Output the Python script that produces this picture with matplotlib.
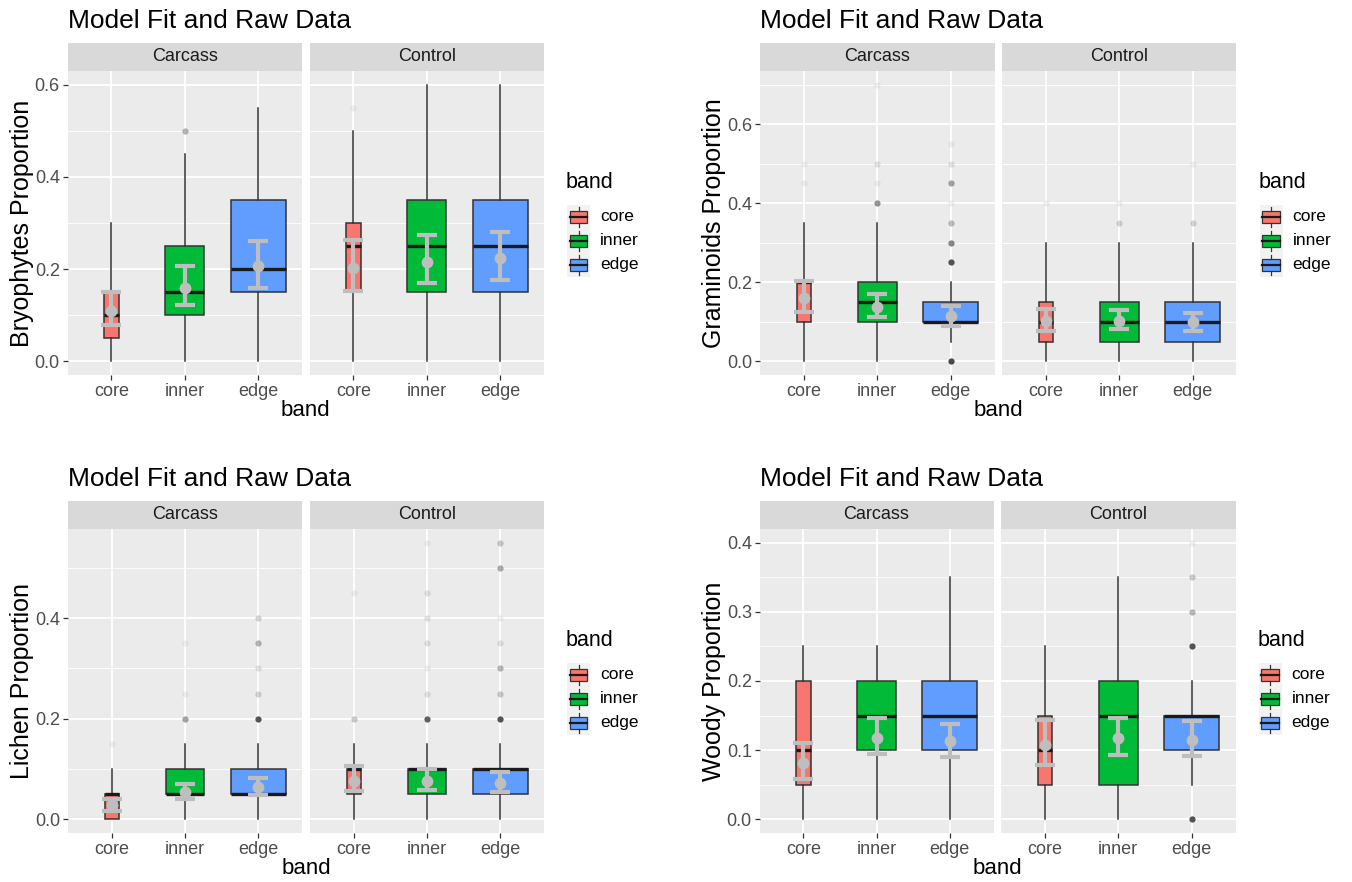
import numpy as np
import matplotlib.pyplot as plt
from matplotlib.patches import Rectangle
from matplotlib.ticker import MultipleLocator, FormatStrFormatter

plt.rcParams['font.family'] = ['Liberation Sans', 'DejaVu Sans']

W, H = 1352, 882

bands = ['core', 'inner', 'edge']
facets = ['Carcass', 'Control']

# ---- Bryophytes (rows: Carcass, Control; cols: core, inner, edge)
bryo_q1 = [[0.05, 0.10, 0.15], [0.15, 0.15, 0.15]]
bryo_med = [[0.10, 0.15, 0.20], [0.25, 0.25, 0.25]]
bryo_q3 = [[0.15, 0.25, 0.35], [0.30, 0.35, 0.35]]
bryo_wlo = [[0.0, 0.0, 0.0], [0.0, 0.0, 0.0]]
bryo_whi = [[0.30, 0.45, 0.55], [0.50, 0.60, 0.60]]
bryo_fit = [[0.109, 0.160, 0.206], [0.203, 0.216, 0.223]]
bryo_fit_lo = [[0.078, 0.123, 0.160], [0.153, 0.169, 0.176]]
bryo_fit_hi = [[0.150, 0.207, 0.260], [0.264, 0.273, 0.280]]
# outliers: (facet, band, value, number of overlapping points)
bryo_out = [(0, 1, 0.50, 6), (1, 0, 0.55, 1)]

# ---- Graminoids
gram_q1 = [[0.10, 0.10, 0.10], [0.05, 0.05, 0.05]]
gram_med = [[0.20, 0.15, 0.10], [0.10, 0.10, 0.10]]
gram_q3 = [[0.20, 0.20, 0.15], [0.15, 0.15, 0.15]]
gram_wlo = [[0.0, 0.0, 0.05], [0.0, 0.0, 0.0]]
gram_whi = [[0.35, 0.35, 0.20], [0.30, 0.30, 0.30]]
gram_fit = [[0.160, 0.138, 0.114], [0.101, 0.103, 0.099]]
gram_fit_lo = [[0.124, 0.111, 0.090], [0.076, 0.082, 0.078]]
gram_fit_hi = [[0.203, 0.170, 0.141], [0.133, 0.129, 0.123]]
gram_out = [(0, 0, 0.50, 1), (0, 0, 0.45, 1),
            (0, 1, 0.70, 1), (0, 1, 0.50, 2), (0, 1, 0.45, 1), (0, 1, 0.40, 10),
            (0, 2, 0.55, 1), (0, 2, 0.50, 2), (0, 2, 0.45, 8), (0, 2, 0.40, 1),
            (0, 2, 0.35, 5), (0, 2, 0.30, 12), (0, 2, 0.25, 25), (0, 2, 0.0, 30),
            (1, 0, 0.40, 1), (1, 1, 0.40, 1), (1, 1, 0.35, 3),
            (1, 2, 0.50, 1), (1, 2, 0.35, 3)]

# ---- Lichen
lich_q1 = [[0.0, 0.05, 0.05], [0.05, 0.05, 0.05]]
lich_med = [[0.05, 0.05, 0.05], [0.10, 0.10, 0.10]]
lich_q3 = [[0.05, 0.10, 0.10], [0.10, 0.10, 0.10]]
lich_wlo = [[0.0, 0.0, 0.0], [0.0, 0.0, 0.0]]
lich_whi = [[0.10, 0.15, 0.15], [0.15, 0.15, 0.15]]
lich_fit = [[0.029, 0.054, 0.064], [0.077, 0.076, 0.073]]
lich_fit_lo = [[0.017, 0.040, 0.048], [0.056, 0.058, 0.055]]
lich_fit_hi = [[0.040, 0.071, 0.083], [0.107, 0.100, 0.095]]
lich_out = [(0, 0, 0.15, 1),
            (0, 1, 0.35, 1), (0, 1, 0.25, 1), (0, 1, 0.20, 8),
            (0, 2, 0.40, 3), (0, 2, 0.35, 6), (0, 2, 0.30, 2), (0, 2, 0.25, 3), (0, 2, 0.20, 25),
            (1, 0, 0.45, 1), (1, 0, 0.20, 4),
            (1, 1, 0.55, 1), (1, 1, 0.45, 2), (1, 1, 0.40, 2), (1, 1, 0.35, 2),
            (1, 1, 0.30, 1), (1, 1, 0.25, 2), (1, 1, 0.20, 20),
            (1, 2, 0.55, 4), (1, 2, 0.50, 7), (1, 2, 0.40, 1), (1, 2, 0.35, 2),
            (1, 2, 0.30, 6), (1, 2, 0.25, 4), (1, 2, 0.20, 25)]

# ---- Woody
wood_q1 = [[0.05, 0.10, 0.10], [0.05, 0.05, 0.10]]
wood_med = [[0.10, 0.15, 0.15], [0.10, 0.15, 0.15]]
wood_q3 = [[0.20, 0.20, 0.20], [0.15, 0.20, 0.15]]
wood_wlo = [[0.0, 0.0, 0.0], [0.0, 0.0, 0.05]]
wood_whi = [[0.25, 0.25, 0.35], [0.25, 0.35, 0.20]]
wood_fit = [[0.082, 0.117, 0.113], [0.108, 0.117, 0.115]]
wood_fit_lo = [[0.059, 0.094, 0.090], [0.079, 0.093, 0.091]]
wood_fit_hi = [[0.111, 0.147, 0.138], [0.143, 0.147, 0.142]]
wood_out = [(1, 2, 0.40, 1), (1, 2, 0.35, 4), (1, 2, 0.30, 6), (1, 2, 0.25, 25), (1, 2, 0.0, 25)]

band_colors = ['#F8766D', '#00BA38', '#619CFF']
box_widths = [0.2, 0.53, 0.75]

panels = [
    dict(ylabel='Bryophytes Proportion', q1=bryo_q1, med=bryo_med, q3=bryo_q3, wlo=bryo_wlo,
         whi=bryo_whi, fit=bryo_fit, lo=bryo_fit_lo, hi=bryo_fit_hi, out=bryo_out, step=0.2,
         fx=[(67.5, 302), (309.5, 544)], top=42.7),
    dict(ylabel='Graminoids Proportion', q1=gram_q1, med=gram_med, q3=gram_q3, wlo=gram_wlo,
         whi=gram_whi, fit=gram_fit, lo=gram_fit_lo, hi=gram_fit_hi, out=gram_out, step=0.2,
         fx=[(760, 994.5), (1002, 1236.5)], top=42.7),
    dict(ylabel='Lichen Proportion', q1=lich_q1, med=lich_med, q3=lich_q3, wlo=lich_wlo,
         whi=lich_whi, fit=lich_fit, lo=lich_fit_lo, hi=lich_fit_hi, out=lich_out, step=0.2,
         fx=[(68, 302), (310, 544)], top=500.7),
    dict(ylabel='Woody Proportion', q1=wood_q1, med=wood_med, q3=wood_q3, wlo=wood_wlo,
         whi=wood_whi, fit=wood_fit, lo=wood_fit_lo, hi=wood_fit_hi, out=wood_out, step=0.1,
         fx=[(759.5, 993.5), (1001, 1235.5)], top=500.7),
]

fig = plt.figure(figsize=(W / 100, H / 100), dpi=100)
fig.patch.set_facecolor('white')


def px_axes(x0, x1, y0, y1):
    return fig.add_axes([x0 / W, 1 - y1 / H, (x1 - x0) / W, (y1 - y0) / H])


strip_h = 28
plot_h = 304.5

for p in panels:
    top = p['top']
    ptop = top + strip_h
    pbot = ptop + plot_h
    # y range from data, ggplot style 5% expansion
    vals = [v for row in p['whi'] for v in row] + [v for row in p['hi'] for v in row] + [o[2] for o in p['out']]
    ymax = max(vals)
    ymin = 0.0
    pad = (ymax - ymin) * 0.05

    for f, (x0, x1) in enumerate(p['fx']):
        ax = px_axes(x0, x1, ptop, pbot)
        ax.set_facecolor('#EBEBEB')
        for s in ax.spines.values():
            s.set_visible(False)
        ax.set_xlim(0.4, 3.6)
        ax.set_ylim(ymin - pad, ymax + pad)
        ax.yaxis.set_major_locator(MultipleLocator(p['step']))
        ax.yaxis.set_minor_locator(MultipleLocator(p['step'] / 2))
        ax.yaxis.set_major_formatter(FormatStrFormatter('%.1f'))
        ax.set_xticks([1, 2, 3])
        ax.set_xticklabels(bands)
        ax.set_axisbelow(True)
        ax.grid(which='major', color='white', lw=1.3)
        ax.grid(which='minor', axis='y', color='white', lw=0.6)
        ax.tick_params(which='major', length=3.5, width=0.9, color='#333333',
                       labelsize=13, labelcolor='#4D4D4D', pad=2)
        ax.tick_params(which='minor', length=0)
        if f == 1:
            ax.tick_params(axis='y', which='both', length=0, labelleft=False)

        stats = []
        for b in range(3):
            stats.append(dict(med=p['med'][f][b], q1=p['q1'][f][b], q3=p['q3'][f][b],
                              whislo=p['wlo'][f][b], whishi=p['whi'][f][b], fliers=[]))
        bp = ax.bxp(stats, positions=[1, 2, 3], widths=box_widths, patch_artist=True,
                    showcaps=False, showfliers=False, manage_ticks=False,
                    boxprops=dict(edgecolor='#333333', linewidth=1.1),
                    whiskerprops=dict(color='#333333', linewidth=1.1),
                    medianprops=dict(color='#1A1A1A', linewidth=2.4))
        for patch, c in zip(bp['boxes'], band_colors):
            patch.set_facecolor(c)

        for fi, bi, v, n in p['out']:
            if fi == f:
                ax.plot(bi + 1, v, 'o', color='#333333', alpha=1 - 0.93 ** n, ms=4.5,
                        mec='none', zorder=3)

        fit = np.array(p['fit'][f])
        lo = np.array(p['lo'][f])
        hi = np.array(p['hi'][f])
        ax.errorbar([1, 2, 3], fit, yerr=[fit - lo, hi - fit], fmt='o', color='#BEBEBE',
                    ms=7.5, elinewidth=3, capsize=7.4, capthick=3, zorder=5)

        # facet strip
        sax = px_axes(x0, x1, top, ptop)
        sax.set_facecolor('#D9D9D9')
        sax.set_xticks([])
        sax.set_yticks([])
        for s in sax.spines.values():
            s.set_visible(False)
        sax.text(0.5, 0.5, facets[f], ha='center', va='center', fontsize=13,
                 color='#1A1A1A', transform=sax.transAxes)

    left = p['fx'][0][0]
    right = p['fx'][1][1]
    mid_y = (ptop + pbot) / 2
    fig.text(left / W, 1 - (top - 22) / H, 'Model Fit and Raw Data', fontsize=19,
             ha='left', va='center', color='black')
    fig.text((left + right) / 2 / W, 1 - (pbot + 35) / H, 'band', fontsize=16,
             ha='center', va='center', color='black')
    fig.text((left - 46) / W, 1 - mid_y / H, p['ylabel'], fontsize=18, rotation=90,
             ha='center', va='center', color='black')

    # legend
    lx = right + 22
    fig.text(lx / W, 1 - (mid_y - 40) / H, 'band', fontsize=15.5, ha='left', va='center',
             color='black')
    lax = px_axes(lx + 1, lx + 24, mid_y - 18, mid_y + 54)
    lax.set_facecolor('#F2F2F2')
    lax.set_xlim(0, 1)
    lax.set_ylim(3, 0)
    lax.set_xticks([])
    lax.set_yticks([])
    for s in lax.spines.values():
        s.set_visible(False)
    for i, c in enumerate(band_colors):
        lax.plot([0.5, 0.5], [i + 0.1, i + 0.25], color='#333333', lw=0.9)
        lax.plot([0.5, 0.5], [i + 0.75, i + 0.9], color='#333333', lw=0.9)
        lax.add_patch(Rectangle((0.125, i + 0.25), 0.75, 0.5, facecolor=c,
                                edgecolor='#333333', lw=0.9))
        lax.plot([0.125, 0.875], [i + 0.5, i + 0.5], color='#1A1A1A', lw=1.6)
        fig.text((lx + 34) / W, 1 - (mid_y - 6 + 24 * i) / H, bands[i], fontsize=12.5,
                 ha='left', va='center', color='black')

fig.savefig('out.png', dpi=100)
